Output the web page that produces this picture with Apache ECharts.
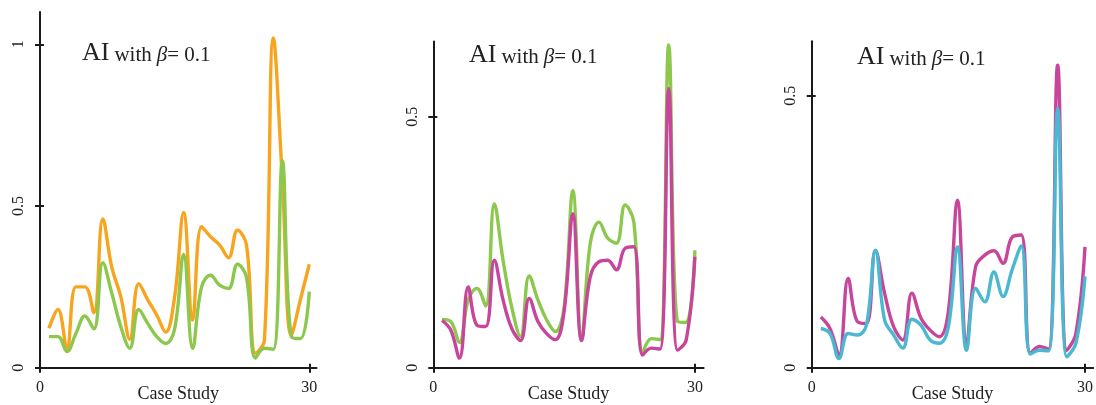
<!DOCTYPE html>
<html>
<head>
<meta charset="utf-8">
<script src="https://cdn.jsdelivr.net/npm/echarts@6/dist/echarts.min.js"></script>
<style>
html,body{margin:0;padding:0;background:#fff;}
#c{width:1096px;height:405px;}
</style>
</head>
<body>
<div id="c"></div>
<script>
const cases = [1,2,3,4,5,6,7,8,9,10,11,12,13,14,15,16,17,18,19,20,21,22,23,24,25,26,27,28,29,30];

const p1Orange = [0.122,0.18,0.06,0.25,0.25,0.17,0.46,0.31,0.22,0.088,0.26,0.21,0.163,0.11,0.22,0.48,0.147,0.436,0.405,0.38,0.34,0.425,0.38,0.045,0.085,1.02,0.58,0.10,0.21,0.32];
const p1Green  = [0.096,0.096,0.05,0.106,0.16,0.12,0.325,0.23,0.127,0.06,0.18,0.137,0.096,0.075,0.12,0.35,0.06,0.25,0.286,0.255,0.245,0.32,0.28,0.03,0.06,0.057,0.64,0.096,0.09,0.235];

const p2Green   = [0.096,0.092,0.05,0.135,0.158,0.123,0.326,0.214,0.12,0.062,0.183,0.135,0.095,0.072,0.12,0.353,0.055,0.248,0.29,0.258,0.248,0.324,0.29,0.03,0.058,0.056,0.643,0.092,0.09,0.234];
const p2Magenta = [0.094,0.075,0.019,0.161,0.085,0.082,0.214,0.135,0.078,0.054,0.138,0.092,0.068,0.056,0.112,0.307,0.054,0.181,0.211,0.214,0.195,0.238,0.241,0.025,0.039,0.037,0.556,0.035,0.055,0.221];

const p3Magenta = [0.093,0.072,0.023,0.164,0.085,0.081,0.215,0.137,0.075,0.051,0.137,0.091,0.069,0.057,0.103,0.308,0.045,0.186,0.207,0.215,0.192,0.24,0.244,0.026,0.039,0.034,0.556,0.032,0.063,0.222];
const p3Cyan    = [0.072,0.063,0.017,0.063,0.06,0.078,0.216,0.088,0.06,0.036,0.089,0.078,0.051,0.045,0.075,0.222,0.032,0.146,0.121,0.176,0.131,0.18,0.224,0.025,0.032,0.031,0.477,0.02,0.045,0.168];

const xTickValues = [0, 30];
const xTickLabels = ['0','30'];
const yTickValues1 = [0, 0.5, 1];
const yTickLabels1 = ['0','0.5','1'];
const yTickValues23 = [0, 0.5];
const yTickLabels23 = ['0','0.5'];
const titleText = ['AI','with','β','= 0.1'];
const xName = 'Case Study';

const ORANGE = '#F7A51E', GREEN = '#8CC84E', MAGENTA = '#C7459B', CYAN = '#4AB8D1';
const SERIF = '"Liberation Serif","DejaVu Serif",serif';
const AXC = '#1a1a1a';

const grids = [
  {left:40, top:12, width:276.5, height:355.7, xMax:30.8, yMax:1.1},
  {left:433.3, top:41.4, width:270.3, height:326.3, xMax:31, yMax:0.65},
  {left:811.7, top:41.3, width:281.5, height:326.4, xMax:30.9, yMax:0.6}
];
const titlePos = [{left:82, top:38},{left:469, top:40},{left:857, top:42}];
const panelSeries = [
  [{d:p1Orange,c:ORANGE},{d:p1Green,c:GREEN}],
  [{d:p2Green,c:GREEN},{d:p2Magenta,c:MAGENTA}],
  [{d:p3Magenta,c:MAGENTA},{d:p3Cyan,c:CYAN}]
];

function pairs(vals){ return cases.map((x,i)=>[x, vals[i]]); }
function labelFor(values, labels){
  return (v)=>{ for(let i=0;i<values.length;i++){ if(Math.abs(v-values[i])<1e-9) return labels[i]; } return ''; };
}

const option = {
  backgroundColor:'#fff',
  animation:false,
  title: titlePos.map(p=>({
    left:p.left, top:p.top, padding:0,
    text:'{a|'+titleText[0]+'} {b|'+titleText[1]+'} {c|'+titleText[2]+'}{b|'+titleText[3]+'}',
    textStyle:{
      fontWeight:'normal',
      rich:{
        a:{fontFamily:SERIF,fontSize:26,fontWeight:'normal',color:'#222',lineHeight:28,verticalAlign:'bottom'},
        b:{fontFamily:SERIF,fontSize:21,fontWeight:'normal',color:'#222',lineHeight:28,verticalAlign:'bottom'},
        c:{fontFamily:SERIF,fontSize:21,fontWeight:'normal',fontStyle:'italic',color:'#222',lineHeight:28,verticalAlign:'bottom'}
      }
    }
  })),
  grid: grids.map(g=>({left:g.left, top:g.top, width:g.width, height:g.height, containLabel:false, outerBoundsMode:'none'})),
  xAxis: [],
  yAxis: [],
  series: []
};

grids.forEach((g,k)=>{
  const yVals = k===0 ? yTickValues1 : yTickValues23;
  const yLabels = k===0 ? yTickLabels1 : yTickLabels23;
  option.xAxis.push({
    type:'value', gridIndex:k, min:0, max:g.xMax,
    splitLine:{show:false},
    axisLine:{show:true, onZero:false, lineStyle:{color:AXC,width:2}},
    axisTick:{show:true, inside:false, length:5, customValues:xTickValues, lineStyle:{color:AXC,width:2}},
    axisLabel:{show:true, margin:12, fontFamily:SERIF, fontSize:16, color:'#222',
      customValues:xTickValues, formatter:labelFor(xTickValues, xTickLabels)},
    name:xName, nameLocation:'middle', nameGap:27, nameMoveOverlap:false,
    nameTextStyle:{fontFamily:SERIF, fontSize:18, color:'#222', verticalAlign:'middle'}
  });
  option.xAxis.push({
    type:'value', gridIndex:k, min:0, max:g.xMax, position:'bottom',
    splitLine:{show:false}, axisLine:{show:false},
    axisTick:{show:true, inside:true, length:4, customValues:xTickValues, lineStyle:{color:AXC,width:2}},
    axisLabel:{show:false}
  });
  option.yAxis.push({
    type:'value', gridIndex:k, min:0, max:g.yMax,
    splitLine:{show:false},
    axisLine:{show:true, onZero:false, lineStyle:{color:AXC,width:2}},
    axisTick:{show:true, inside:false, length:5, customValues:yVals, lineStyle:{color:AXC,width:2}},
    axisLabel:{show:true, rotate:90, margin:13, fontFamily:SERIF, fontSize:16, color:'#222',
      customValues:yVals, formatter:labelFor(yVals, yLabels)}
  });
  option.yAxis.push({
    type:'value', gridIndex:k, min:0, max:g.yMax, position:'left',
    splitLine:{show:false}, axisLine:{show:false},
    axisTick:{show:true, inside:true, length:4, customValues:yVals, lineStyle:{color:AXC,width:2}},
    axisLabel:{show:false}
  });
  panelSeries[k].forEach(s=>{
    option.series.push({
      type:'line', xAxisIndex:2*k, yAxisIndex:2*k, data:pairs(s.d),
      smooth:0.4, showSymbol:false, symbol:'none',
      lineStyle:{color:s.c, width:3.4}, itemStyle:{color:s.c}
    });
  });
});

const chart = echarts.init(document.getElementById('c'), null, {renderer:'canvas'});
chart.setOption(option);
</script>
</body>
</html>
